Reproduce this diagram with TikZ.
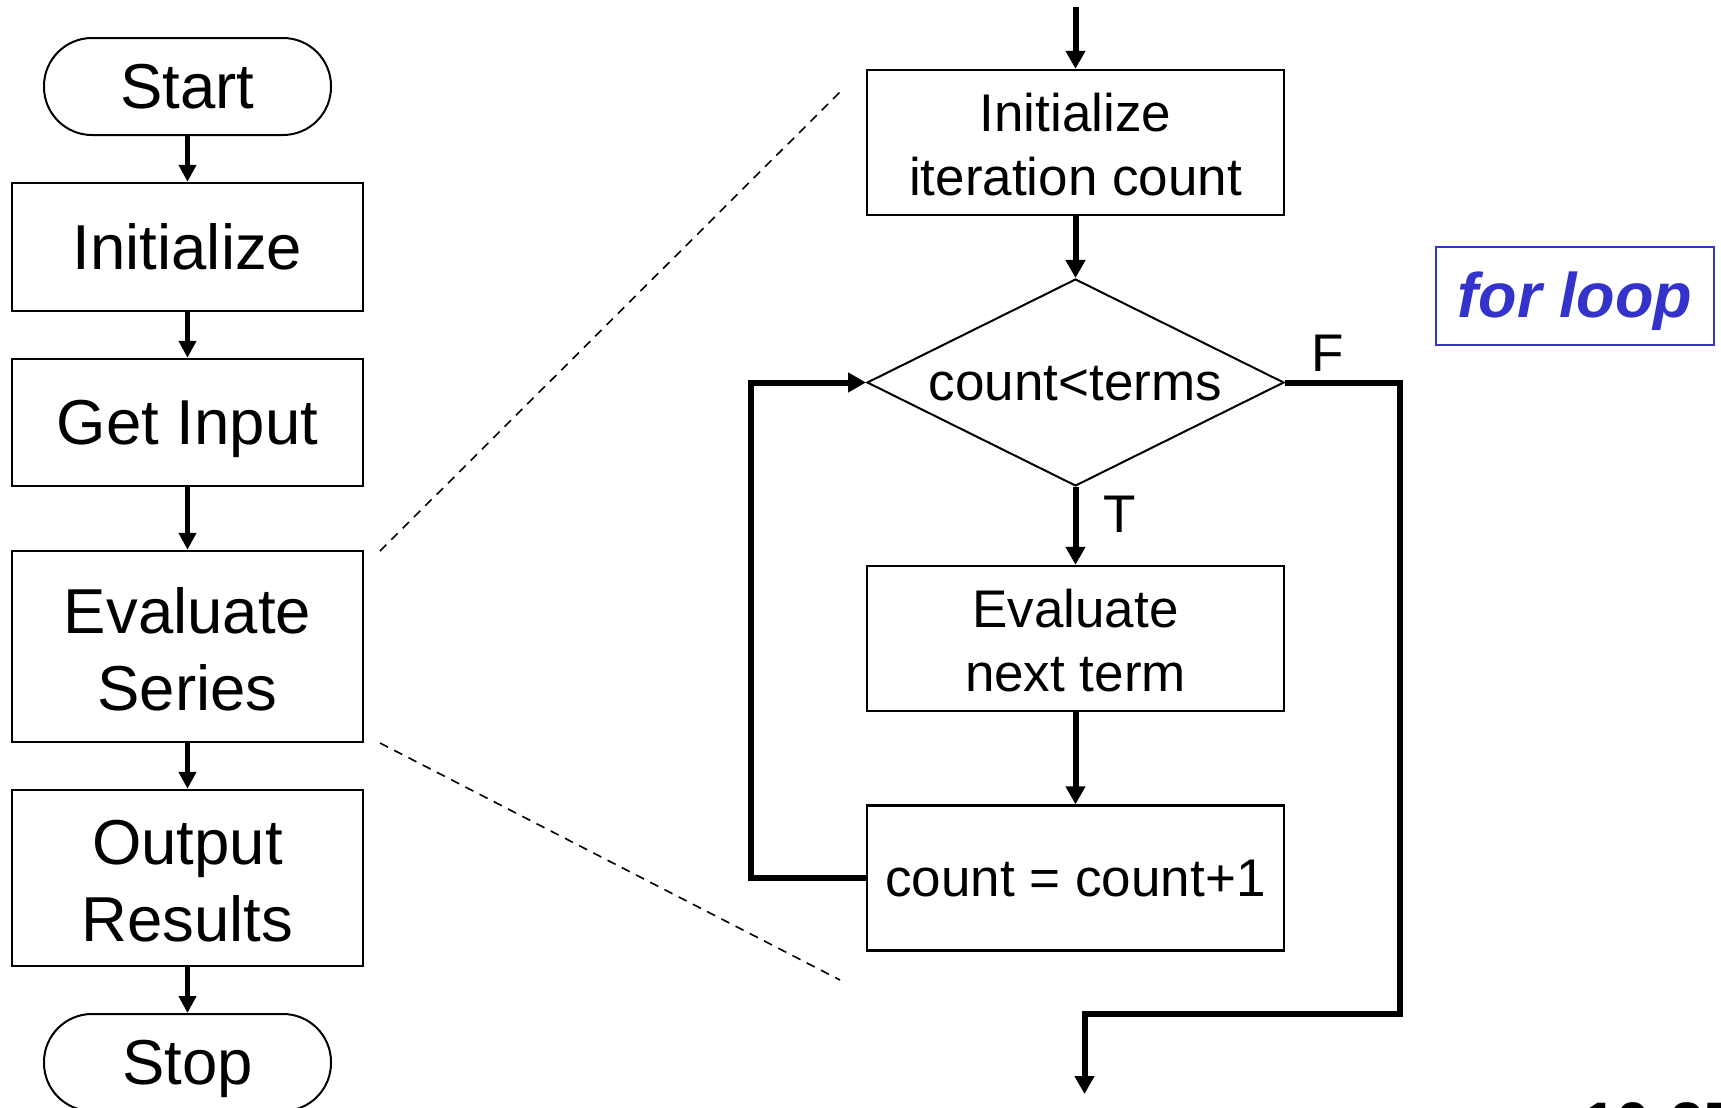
\documentclass[tikz,border=0pt]{standalone}
\usepackage{fontspec}
\setmainfont{Liberation Sans}
\usetikzlibrary{arrows.meta, shapes.geometric}

\definecolor{tagblue}{RGB}{51,51,204}
% invisible line boxes, so lines sit as in a slide text frame
\newcommand\sline{\rule[-0.212em]{0pt}{1.117em}}
\newcommand\tline{\rule{0pt}{0.81em}}

\begin{document}
\begin{tikzpicture} [
  x = 0.5pt,
  y = -0.5pt,
  bigtext/.style = {font = \fontsize{31.75}{38.5}\selectfont},
  smalltext/.style = {font = \fontsize{26.5}{32}\selectfont},
  oneline/.style = {execute at begin node = \sline},
  terminal/.style = {draw, bigtext, oneline, line width = 1pt, rounded corners = 24pt,
    minimum width = 143.5pt, minimum height = 48.5pt, inner sep = 0pt},
  process/.style = {draw, bigtext, line width = 1.2pt, align = center,
    minimum width = 175.5pt, inner sep = 0pt},
  stepbox/.style = {draw, smalltext, line width = 1.2pt, align = center,
    minimum width = 208.5pt, minimum height = 72.5pt, inner sep = 0pt},
  decision/.style = {draw, smalltext, oneline, diamond, aspect = 2, line width = 1pt,
    minimum width = 208.5pt, minimum height = 103.5pt, inner sep = 0pt},
  flow/.style = {line width = 2.3pt, -{Triangle[length = 8.5pt, width = 8.5pt]}},
  loopflow/.style = {line width = 3pt, -{Triangle[length = 9pt, width = 9.5pt]}},
  zoomline/.style = {line width = 0.8pt, dash pattern = on 4.5pt off 3.5pt},
]
\useasboundingbox (0, 0) rectangle (1721, 1108);

% main program, left column
\node [terminal] (start) at (187.5, 86.5) {Start};
\node [process, oneline, minimum height = 64pt] (init) at (187.5, 247) {Initialize};
\node [process, oneline, minimum height = 63.5pt] (input) at (187.5, 422.5) {Get Input};
\node [process, minimum height = 95.5pt] (eval) at (187.5, 646.5) {\tline Evaluate\\Series};
\node [process, minimum height = 88pt] (output) at (187.5, 878) {\tline Output\\Results};
\node [terminal] (stop) at (187.5, 1062.5) {Stop};

\draw [flow] (start) -- (init);
\draw [flow] (init) -- (input);
\draw [flow] (input) -- (eval);
\draw [flow] (eval) -- (output);
\draw [flow] (output) -- (stop);

% the series evaluation opened up as a loop
\coordinate (entry) at (1075.5, 7);
\node [stepbox] (count) at (1075.5, 142.5) {\tline Initialize\\iteration count};
\node [decision] (test) at (1075.5, 382.5) {count<terms};
\node [stepbox] (term) at (1075.5, 638.5) {\tline Evaluate\\next term};
\node [stepbox, oneline] (incr) at (1075.5, 878) {count = count+1};
\coordinate (back) at (751, 878);
\coordinate (turn) at (1399.5, 1014);
\coordinate (exit) at (1084.5, 1094);

\draw [loopflow] (entry) -- (count);
\draw [loopflow] (count) -- (test);
\draw [loopflow] (test) -- (term);
\draw [loopflow] (term) -- (incr);
\draw [loopflow] (incr.west) -- (back) |- (test.west);
\draw [loopflow] (test.east) -| (turn) -| (exit);

\node [smalltext, oneline] (true) at (1119.5, 514) {T};
\node [smalltext, oneline] (false) at (1328, 353) {F};

% dashed lines fanning out from the box
\coordinate (zoomtop) at (842, 90);
\coordinate (zoombot) at (840, 980);
\draw [zoomline] (380, 551) -- (zoomtop);
\draw [zoomline] (380, 743) -- (zoombot);

\node [draw = tagblue, line width = 1pt, text = tagblue, oneline,
  font = \fontsize{31.5}{36}\selectfont\bfseries\itshape,
  minimum width = 139pt, minimum height = 49pt] (tag) at (1575, 296) {for loop};

\node [anchor = north west, inner sep = 0pt, font = \fontsize{30}{36}\selectfont\bfseries]
  (page) at (1583, 1102) {10-25};
\end{tikzpicture}
\end{document}
